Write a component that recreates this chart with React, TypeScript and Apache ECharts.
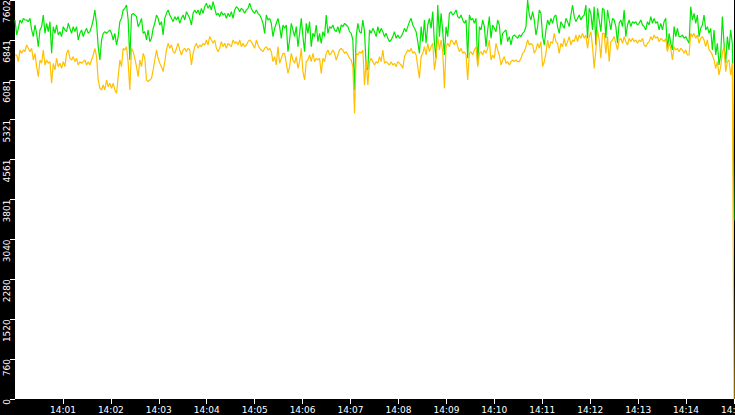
import { useRef, useEffect } from 'react'
import * as echarts from 'echarts'

// minutes along the bottom, 14:00 .. 14:15
const xTickLabels = ['14:00', '14:01', '14:02', '14:03', '14:04', '14:05', '14:06', '14:07',
  '14:08', '14:09', '14:10', '14:11', '14:12', '14:13', '14:14', '14:15'];
const yTickLabels = ['0', '760', '1520', '2280', '3040', '3801', '4561', '5321', '6081', '6841', '7602'];
const yMax = 7602;
const yStep = 760.2;
const spanSeconds = 900;

// green series, evenly spaced samples over the 15 minutes
const greenValues = [
  7221, 6935, 7062, 7221, 7158, 7253, 7221, 7221, 7189, 7253,
  7031, 6904, 7126, 6967, 6713, 7031, 7094, 7316, 6967, 7158,
  6999, 7189, 6586, 7094, 6967, 7126, 6935, 6999, 6904, 7094,
  7031, 6999, 7158, 7062, 6967, 7094, 6999, 7094, 6840, 6967,
  7031, 6904, 6999, 7062, 6967, 6999, 7094, 7221, 7412, 7158,
  6713, 6459, 6840, 6967, 6999, 6967, 6999, 7031, 6967, 6840,
  6967, 6745, 6904, 7189, 7253, 7412, 7443, 7507, 7221, 6459,
  7316, 7348, 7316, 7285, 7094, 7158, 7253, 6967, 6999, 6840,
  7031, 6808, 6872, 7062, 7158, 7316, 7253, 7126, 7189, 6935,
  7253, 7348, 7412, 7316, 7253, 7189, 7285, 7221, 7285, 7158,
  7253, 7316, 7221, 7380, 7316, 7253, 7126, 7348, 7412, 7348,
  7412, 7316, 7443, 7348, 7475, 7539, 7443, 7507, 7412, 7570,
  7443, 7316, 7348, 7285, 7380, 7316, 7348, 7253, 7348, 7285,
  7380, 7253, 7412, 7475, 7443, 7380, 7443, 7412, 7348, 7412,
  7443,
  7539, 7443, 7380, 7348, 7412, 7348, 7316, 7253, 7158, 6967,
  7316, 7221, 7253, 7158, 6904, 7062, 7158, 7253, 7094, 6872,
  7126, 7062, 7126, 6618, 6840, 7158, 7031, 6904, 7094, 6713,
  6967, 7253, 6904, 6618, 7158, 6967, 7189, 6713, 6967, 6904,
  7126, 6808, 6967, 6777, 6999, 6904, 7316, 6967, 7094, 7062,
  7126, 7031, 6999, 7094, 6967, 7126, 7094, 7158, 7126, 7094,
  6999, 6967, 6840, 5888, 6904, 7158, 6999, 6967, 7221, 6999,
  6332, 6269, 7031, 6967, 7062, 6999, 6904, 7094, 6967, 7062,
  6999, 6904, 6967, 6872, 6808, 6840, 6904, 6999, 6872, 6935,
  6872, 6904, 6967, 7062, 6999, 7094, 7189, 7253, 7126, 7062,
  6999, 6808, 6586, 7094, 6808, 7221, 6777, 7126, 7253, 7062,
  7380, 6777, 6491, 7507, 6904, 7348, 6999, 6554, 7094, 6904,
  7348, 7380, 7316, 7348, 7412, 7285, 7253, 7316, 7221, 7158,
  7221, 6491, 7316, 7221, 7253, 7158, 7253, 6364, 7094, 7031,
  7221, 7094, 6713, 7031,
  7285, 6872, 7126, 7062, 6999, 7221, 7126, 6745, 6967, 6999,
  7031, 6808, 6904, 6745, 6904, 6935, 6904, 6872, 6935, 6904,
  6967, 6999, 7094, 7602, 7316, 7221, 7380, 7221, 6935, 7094,
  7412, 7348, 6904, 6745, 7031, 7221, 7126, 7253, 7158, 7285,
  7316, 7094, 6967, 7189, 7126, 7062, 7253, 7189, 7094, 7316,
  7507, 7285, 7189, 7253, 7316, 7221, 7285, 7316, 7507, 6872,
  7443, 7348, 7031, 7475, 6745, 7443, 7221, 6999, 7443, 7412,
  6872, 7412, 7221, 7031, 7253, 7221, 7094, 6777, 7158, 7221,
  7094, 7412, 6904, 7126, 7221, 7094, 7189, 7158, 7189, 7126,
  7158, 7221, 7126, 7094, 7031, 7189, 7126, 7285, 7158, 7253,
  7158, 7189, 7031, 7158, 7031, 7189, 7253, 6650, 6967, 6777,
  6650, 7094, 6904, 7062, 6904, 6904, 6935, 6872, 6904, 6840,
  6777, 7475, 7221, 7348, 7158, 7316, 6904, 7062, 7126, 7316,
  7031, 7094, 6967, 7062, 6650, 7031, 6554, 6777, 6364, 6554,
  7285, 6777, 6396, 6904, 6650, 7031, 6777,
  3400,
];

// orange series, same sampling
const orangeValues = [
  6554, 6554, 6427, 6650, 6586, 6650, 6618, 6745, 6681, 6618,
  6681, 6459, 6586, 6332, 6142, 6459, 6396, 6650, 6364, 6459,
  6396, 6427, 6015, 6396, 6269, 6491, 6332, 6396, 6300, 6427,
  6332, 6586, 6650, 6491, 6459, 6523, 6427, 6491, 6364, 6427,
  6396, 6427, 6459, 6364, 6427, 6364, 6459, 6554, 6681, 6523,
  6078, 5919, 5888, 5983, 5888, 6078, 5951, 6015, 5919, 6015,
  5888, 5824, 6142, 6459, 6332, 6681, 6650, 6713, 6396, 5888,
  6681, 6618, 6491, 6332, 6142, 6459, 6332, 6586, 6491, 6078,
  6046, 6078, 6110, 6269, 6459, 6650, 6491, 6396, 6332, 6237,
  6427, 6650, 6777, 6681, 6745, 6618, 6586, 6681, 6777, 6650,
  6554, 6650, 6681, 6618, 6681, 6650, 6364, 6586, 6713, 6777,
  6681, 6745, 6713, 6777, 6745, 6840, 6745, 6904, 6840, 6777,
  6840, 6681, 6618, 6681, 6808, 6713, 6777, 6681, 6777, 6745,
  6713, 6840, 6777, 6808, 6745, 6840, 6713, 6777, 6713, 6745,
  6808,
  6840, 6808, 6745, 6681, 6840, 6745, 6681, 6650, 6618, 6681,
  6713, 6650, 6681, 6618, 6427, 6523, 6364, 6713, 6396, 6491,
  6586, 6586, 6396, 6205, 6332, 6586, 6459, 6396, 6523, 6300,
  6427, 6681, 6237, 6078, 6427, 6459, 6554, 6427, 6586, 6427,
  6491, 6459, 6491, 6205, 6491, 6427, 6586, 6650, 6554, 6586,
  6650, 6586, 6459, 6554, 6650, 6681, 6650, 6586, 6618, 6554,
  6491, 6459, 6332, 5443, 6586, 6554, 6618, 6586, 6650, 5983,
  6459, 5983, 6427, 6491, 6427, 6364, 6427, 6396, 6523, 6427,
  6650, 6396, 6427, 6396, 6364, 6427, 6364, 6396, 6332, 6427,
  6396, 6364, 6300, 6523, 6586, 6650, 6618, 6681, 6586, 6618,
  6554, 6332, 6110, 6523, 6586, 6713, 6554, 6777, 6618, 6713,
  6777, 6269, 6491, 6904, 6650, 6840, 6618, 5919, 6713, 6777,
  6713, 6840, 6808, 6745, 6840, 6713, 6618, 6681, 6586, 6618,
  6554, 6078, 6586, 6618, 6554, 6650, 6713, 6332, 6586, 6618,
  6554, 6650, 6586, 6681,
  6840, 6459, 6554, 6491, 6777, 6650, 6554, 6364, 6459, 6523,
  6396, 6427, 6364, 6427, 6459, 6427, 6459, 6427, 6427, 6491,
  6586, 6618, 6713, 6840, 6745, 6777, 6745, 6586, 6650, 6777,
  6681, 6808, 6332, 6427, 6586, 6840, 6681, 6808, 6777, 6967,
  6808, 6777, 6586, 6777, 6713, 6872, 6713, 6808, 6904, 6745,
  6840, 6808, 6935, 6808, 6935, 6872, 6967, 6872, 6935, 6681,
  6904, 6999, 6713, 6300, 6650, 7031, 6840, 6491, 6967, 6967,
  6586, 6904, 6427, 6808, 6840, 6904, 6777, 6650, 6840, 6872,
  6777, 6904, 6808, 6745, 6872, 6808, 6872, 6808, 6840, 6777,
  6840, 6808, 6872, 6745, 6713, 6777, 6808, 6904, 6840, 6935,
  6872, 6904, 6808, 6872, 6840, 6808, 6872, 6618, 6777, 6681,
  6459, 6713, 6650, 6681, 6618, 6681, 6650, 6586, 6650, 6554,
  6554, 6967, 6904, 6967, 6872, 6935, 6777, 6872, 6904, 6840,
  6713, 6840, 6650, 6618, 6554, 6459, 6300, 6427, 6173, 6332,
  6586, 6713, 6237, 6427, 6459, 6173, 6396,
  0,
];

const toPairs = (values: number[]) => {
  const step = spanSeconds / (values.length - 1);
  return values.map((v, i) => [i * step, v]);
};

function App() {
  const chartRef = useRef<HTMLDivElement>(null);

  useEffect(() => {
    document.body.style.margin = '0';
    if (!chartRef.current) return;
    const myChart = echarts.init(chartRef.current, null, { renderer: 'svg' });
    const labelFont = { color: '#fff', fontFamily: 'DejaVu Sans', fontSize: 9 };
    const option = {
      animation: false,
      backgroundColor: '#000',
      grid: {
        left: 15, right: 1, top: 0, bottom: 16,
        show: true, backgroundColor: '#fff', borderWidth: 0,
        containLabel: false, outerBoundsMode: 'none',
      },
      xAxis: {
        type: 'value',
        min: 0,
        max: spanSeconds,
        interval: 60,
        axisLine: { show: false },
        splitLine: { show: false },
        axisTick: { show: true, length: 5, lineStyle: { color: '#fff', width: 1 } },
        axisLabel: {
          ...labelFont,
          margin: 6,
          showMinLabel: false,
          showMaxLabel: true,
          formatter: (v: number) => xTickLabels[Math.round(v / 60)] ?? '',
        },
      },
      yAxis: {
        type: 'value',
        min: 0,
        max: yMax,
        interval: yStep,
        axisLine: { show: false },
        splitLine: { show: false },
        axisTick: { show: true, length: 5, lineStyle: { color: '#fff', width: 1 } },
        axisLabel: {
          ...labelFont,
          rotate: 90,
          align: 'right',
          verticalAlign: 'bottom',
          margin: 4,
          formatter: (v: number) => yTickLabels[Math.round(v / yStep)] ?? '',
        },
      },
      series: [
        {
          name: 'green',
          type: 'line',
          data: toPairs(greenValues),
          symbol: 'none',
          lineStyle: { width: 1.2, color: '#00e600' },
          itemStyle: { color: '#00e600' },
        },
        {
          name: 'orange',
          type: 'line',
          data: toPairs(orangeValues),
          symbol: 'none',
          lineStyle: { width: 1.2, color: '#ffc000' },
          itemStyle: { color: '#ffc000' },
        },
      ],
    };
    myChart.setOption(option);

    return () => {
      myChart.dispose();
    };
  }, []);

  return (
    <div ref={chartRef} style={{ width: '735px', height: '415px' }}></div>
  )
}

export default App
